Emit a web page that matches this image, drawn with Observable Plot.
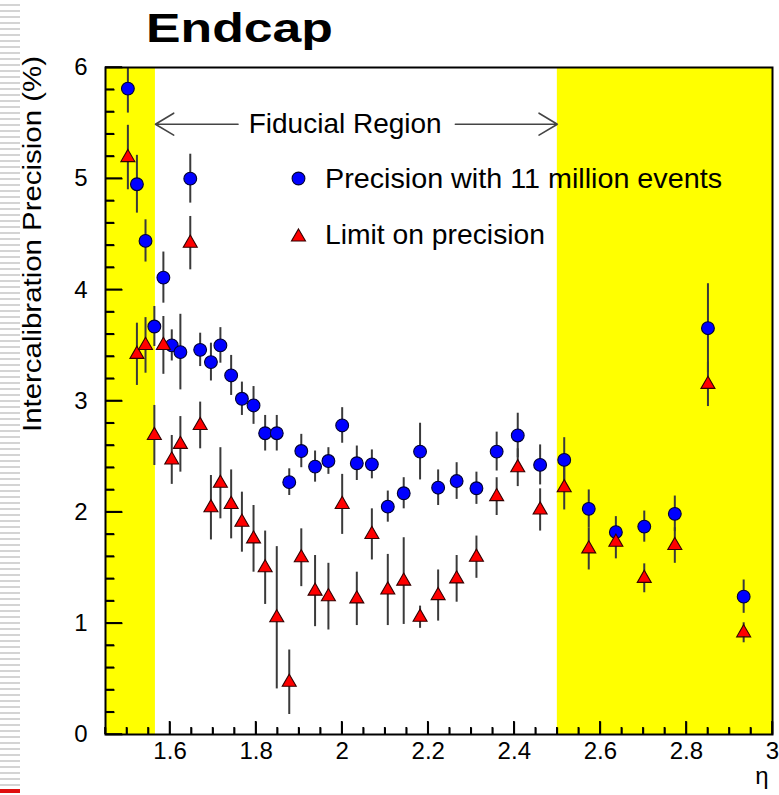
<!DOCTYPE html>
<html><head><meta charset="utf-8">
<script src="https://cdn.jsdelivr.net/npm/d3@7"></script>
<script src="https://cdn.jsdelivr.net/npm/@observablehq/plot@0.6"></script>
<style>
body{margin:0;background:#fff;}
#wrap{position:relative;width:779px;height:795px;overflow:hidden;font-family:"Liberation Sans",Arial,sans-serif;}
#wrap > svg{position:absolute;left:0;top:0;}
#overlay{position:absolute;left:0;top:0;pointer-events:none;}
#stripes{position:absolute;left:0;top:0;width:20px;height:786px;background:repeating-linear-gradient(to bottom,#fff 0,#fff 4px,#d4d4d4 4px,#d4d4d4 6px);}
#redline{position:absolute;left:0;top:789px;width:20px;height:4px;background:#e01010;}
</style></head><body><div id="wrap"></div>
<script>
// ---- data ----
const eta = [1.502,1.523,1.543,1.5635,1.5845,1.604,1.624,1.647,1.670,1.695,1.717,1.742,1.767,1.794,1.821,1.848,1.877,1.905,1.937,1.968,2.000,2.034,2.069,2.106,2.143,2.181,2.223,2.266,2.312,2.359,2.408,2.460,2.516,2.573,2.636,2.702,2.773,2.850,2.933];
const precision = [5.81,4.95,4.44,3.67,4.11,3.50,3.44,5.00,3.46,3.35,3.50,3.23,3.02,2.96,2.71,2.71,2.27,2.55,2.41,2.46,2.78,2.44,2.43,2.05,2.17,2.545,2.22,2.28,2.215,2.545,2.69,2.425,2.47,2.03,1.82,1.87,1.985,3.655,1.24];
const precisionErr = [0.22,0.26,0.19,0.18,0.23,0.14,0.34,0.22,0.15,0.17,0.16,0.18,0.15,0.17,0.16,0.16,0.12,0.15,0.14,0.12,0.16,0.155,0.13,0.14,0.14,0.255,0.16,0.165,0.145,0.175,0.2,0.18,0.2,0.17,0.14,0.14,0.16,0.4,0.15];
const limit = [5.19,3.42,3.50,2.69,3.50,2.47,2.61,4.42,2.78,2.04,2.26,2.07,1.91,1.76,1.50,1.05,0.47,1.59,1.29,1.24,2.07,1.22,1.80,1.30,1.38,1.055,1.25,1.40,1.595,2.14,2.40,2.02,2.22,1.67,1.73,1.405,1.70,3.15,0.915];
const limitErr = [0.29,0.28,0.25,0.27,0.26,0.22,0.25,0.24,0.21,0.29,0.32,0.31,0.27,0.30,0.33,0.64,0.29,0.26,0.32,0.30,0.27,0.24,0.23,0.32,0.39,0.1,0.23,0.21,0.19,0.17,0.17,0.19,0.2,0.19,0.15,0.13,0.16,0.2,0.09];

const xTicks = [1.6,1.8,2,2.2,2.4,2.6,2.8,3];
const xTickLabels = ["1.6","1.8","2","2.2","2.4","2.6","2.8","3"];
const yTicks = [0,1,2,3,4,5,6];
const yTickLabels = ["0","1","2","3","4","5","6"];
const seriesNames = ["Precision with 11 million events","Limit on precision"];
const outsideFiducial = [{x1:1.45,x2:1.566},{x1:2.5,x2:3}];
const fiducialLabel = "Fiducial Region";

// ---- build tables ----
const precTable = eta.map((e,i)=>({eta:e, v:precision[i], err:precisionErr[i]}));
const limTable = eta.map((e,i)=>({eta:e, v:limit[i], err:limitErr[i]}));

const W = 779, H = 795, mL = 105, mR = 7, mT = 67, mB = 61;
const xDom = [1.45, 3], yDom = [0, 6];
const pxX = (xDom[1]-xDom[0])/(W-mL-mR);
const pxY = (yDom[1]-yDom[0])/(H-mT-mB);

const xMinor = d3.range(29, 61).map(i=>+(i*0.05).toFixed(2)).filter(v=>Math.abs(v*5-Math.round(v*5))>1e-6);
const yMinor = d3.range(0, 31).map(i=>+(i*0.2).toFixed(2)).filter(v=>Math.abs(v-Math.round(v))>1e-6);
const xTickRows = [...xMinor.map(v=>({v, len: 7})), ...xTicks.map(v=>({v, len: 13}))];
const yTickRows = [...yMinor.map(v=>({v, len: 9})), ...yTicks.map(v=>({v, len: 17}))];

const fidY = 5.49;
const fidArrows = [
  {x1: 1.758, x2: outsideFiducial[0].x2},
  {x1: 2.263, x2: outsideFiducial[1].x1}
];

const plot = Plot.plot({
  width: W, height: H,
  marginLeft: mL, marginRight: mR, marginTop: mT, marginBottom: mB,
  style: {fontFamily: '"Liberation Sans", Arial, sans-serif', fontSize: "24px", color: "black", background: "transparent", overflow: "visible"},
  x: {domain: xDom, label: null},
  y: {domain: yDom, label: null},
  marks: [
    Plot.rect(outsideFiducial, {x1: "x1", x2: "x2", fill: "#ffff00"}),
    Plot.axisX(xTicks, {tickSize: 0, tickPadding: 7, tickFormat: (d,i)=>xTickLabels[i], fontSize: 24}),
    Plot.axisY(yTicks, {tickSize: 0, tickPadding: 18, tickFormat: (d,i)=>yTickLabels[i], fontSize: 24}),
    // fiducial annotation
    Plot.arrow(fidArrows, {x1: "x1", x2: "x2", y1: fidY, y2: fidY, stroke: "#444", strokeWidth: 1.6, headLength: 20, headAngle: 62}),
    Plot.text([fiducialLabel], {x: 2.007, y: fidY, text: d=>d, fontSize: 28, fill: "black"}),
    // error bars
    Plot.ruleX(precTable, {x: "eta", y1: d=>d.v-d.err, y2: d=>Math.min(yDom[1], d.v+d.err), stroke: "#3a3a3a", strokeWidth: 2}),
    Plot.ruleX(limTable, {x: "eta", y1: d=>d.v-d.err, y2: d=>d.v+d.err, stroke: "#3a3a3a", strokeWidth: 2}),
    // points
    Plot.dot(precTable, {x: "eta", y: "v", r: 6.4, fill: "#0000ff", stroke: "#000033", strokeWidth: 1.1}),
    Plot.dot(limTable, {x: "eta", y: "v", symbol: "triangle", r: 5.2, fill: "#ff0000", stroke: "#330000", strokeWidth: 1.1}),
    // inward ticks
    Plot.link(xTickRows, {x1: d=>d.v, x2: d=>d.v, y1: d=>yDom[0], y2: d=>yDom[0]+d.len*pxY, stroke: "black", strokeWidth: 1.6}),
    Plot.link(yTickRows, {y1: d=>d.v, y2: d=>d.v, x1: d=>xDom[0], x2: d=>xDom[0]+d.len*pxX, stroke: "black", strokeWidth: 1.6}),
    Plot.frame({stroke: "black", strokeWidth: 2})
  ]
});

const wrap = document.getElementById("wrap");
const stripes = document.createElement("div"); stripes.id = "stripes"; wrap.appendChild(stripes);
const red = document.createElement("div"); red.id = "redline"; wrap.appendChild(red);
wrap.appendChild(plot);

// overlay: title, y label, legend, eta label, inward axis ticks
const ns = "http://www.w3.org/2000/svg";
const ov = document.createElementNS(ns, "svg");
ov.setAttribute("id","overlay"); ov.setAttribute("width", W); ov.setAttribute("height", H);
ov.setAttribute("font-family", '"Liberation Sans", Arial, sans-serif');
function txt(str, attrs){ const t = document.createElementNS(ns,"text"); t.textContent = str; for (const k in attrs) t.setAttribute(k, attrs[k]); ov.appendChild(t); return t; }
function el(name, attrs){ const t = document.createElementNS(ns,name); for (const k in attrs) t.setAttribute(k, attrs[k]); ov.appendChild(t); return t; }

try {
  const xs = plot.scale("x"), ys = plot.scale("y");
  const y0 = ys.apply(yDom[0]), x0 = xs.apply(xDom[0]);
  xTickRows.forEach(d => { const X = xs.apply(d.v); el("line", {x1: X, x2: X, y1: y0, y2: y0 - d.len, stroke: "black", "stroke-width": 1.6}); });
  yTickRows.forEach(d => { const Y = ys.apply(d.v); el("line", {x1: x0, x2: x0 + d.len, y1: Y, y2: Y, stroke: "black", "stroke-width": 1.6}); });
} catch (e) {}

txt("Endcap", {x: 146, y: 42, "font-size": 40, "font-weight": "bold", textLength: 187, lengthAdjust: "spacingAndGlyphs"});
txt("Intercalibration Precision (%)", {transform: "translate(41,244) rotate(-90)", "text-anchor": "middle", "font-size": 25, textLength: 376, lengthAdjust: "spacingAndGlyphs"});
txt("η", {x: 762, y: 784, "font-size": 24, "text-anchor": "middle"});
// legend
el("circle", {cx: 298.5, cy: 178.5, r: 6.4, fill: "#0000ff", stroke: "#000033", "stroke-width": 1.1});
const triR = 5.2*Math.sqrt(Math.PI);
const triSide = Math.sqrt(triR*triR*4/Math.sqrt(3));
const triH = triSide*Math.sqrt(3)/2;
el("path", {d: `M${298.5},${237-2*triH/3}L${298.5+triSide/2},${237+triH/3}L${298.5-triSide/2},${237+triH/3}Z`, fill: "#ff0000", stroke: "#330000", "stroke-width": 1.1});
txt(seriesNames[0], {x: 325, y: 188, "font-size": 28, textLength: 397, lengthAdjust: "spacingAndGlyphs"});
txt(seriesNames[1], {x: 325, y: 243.5, "font-size": 28, textLength: 220, lengthAdjust: "spacingAndGlyphs"});
wrap.appendChild(ov);
</script></body></html>
